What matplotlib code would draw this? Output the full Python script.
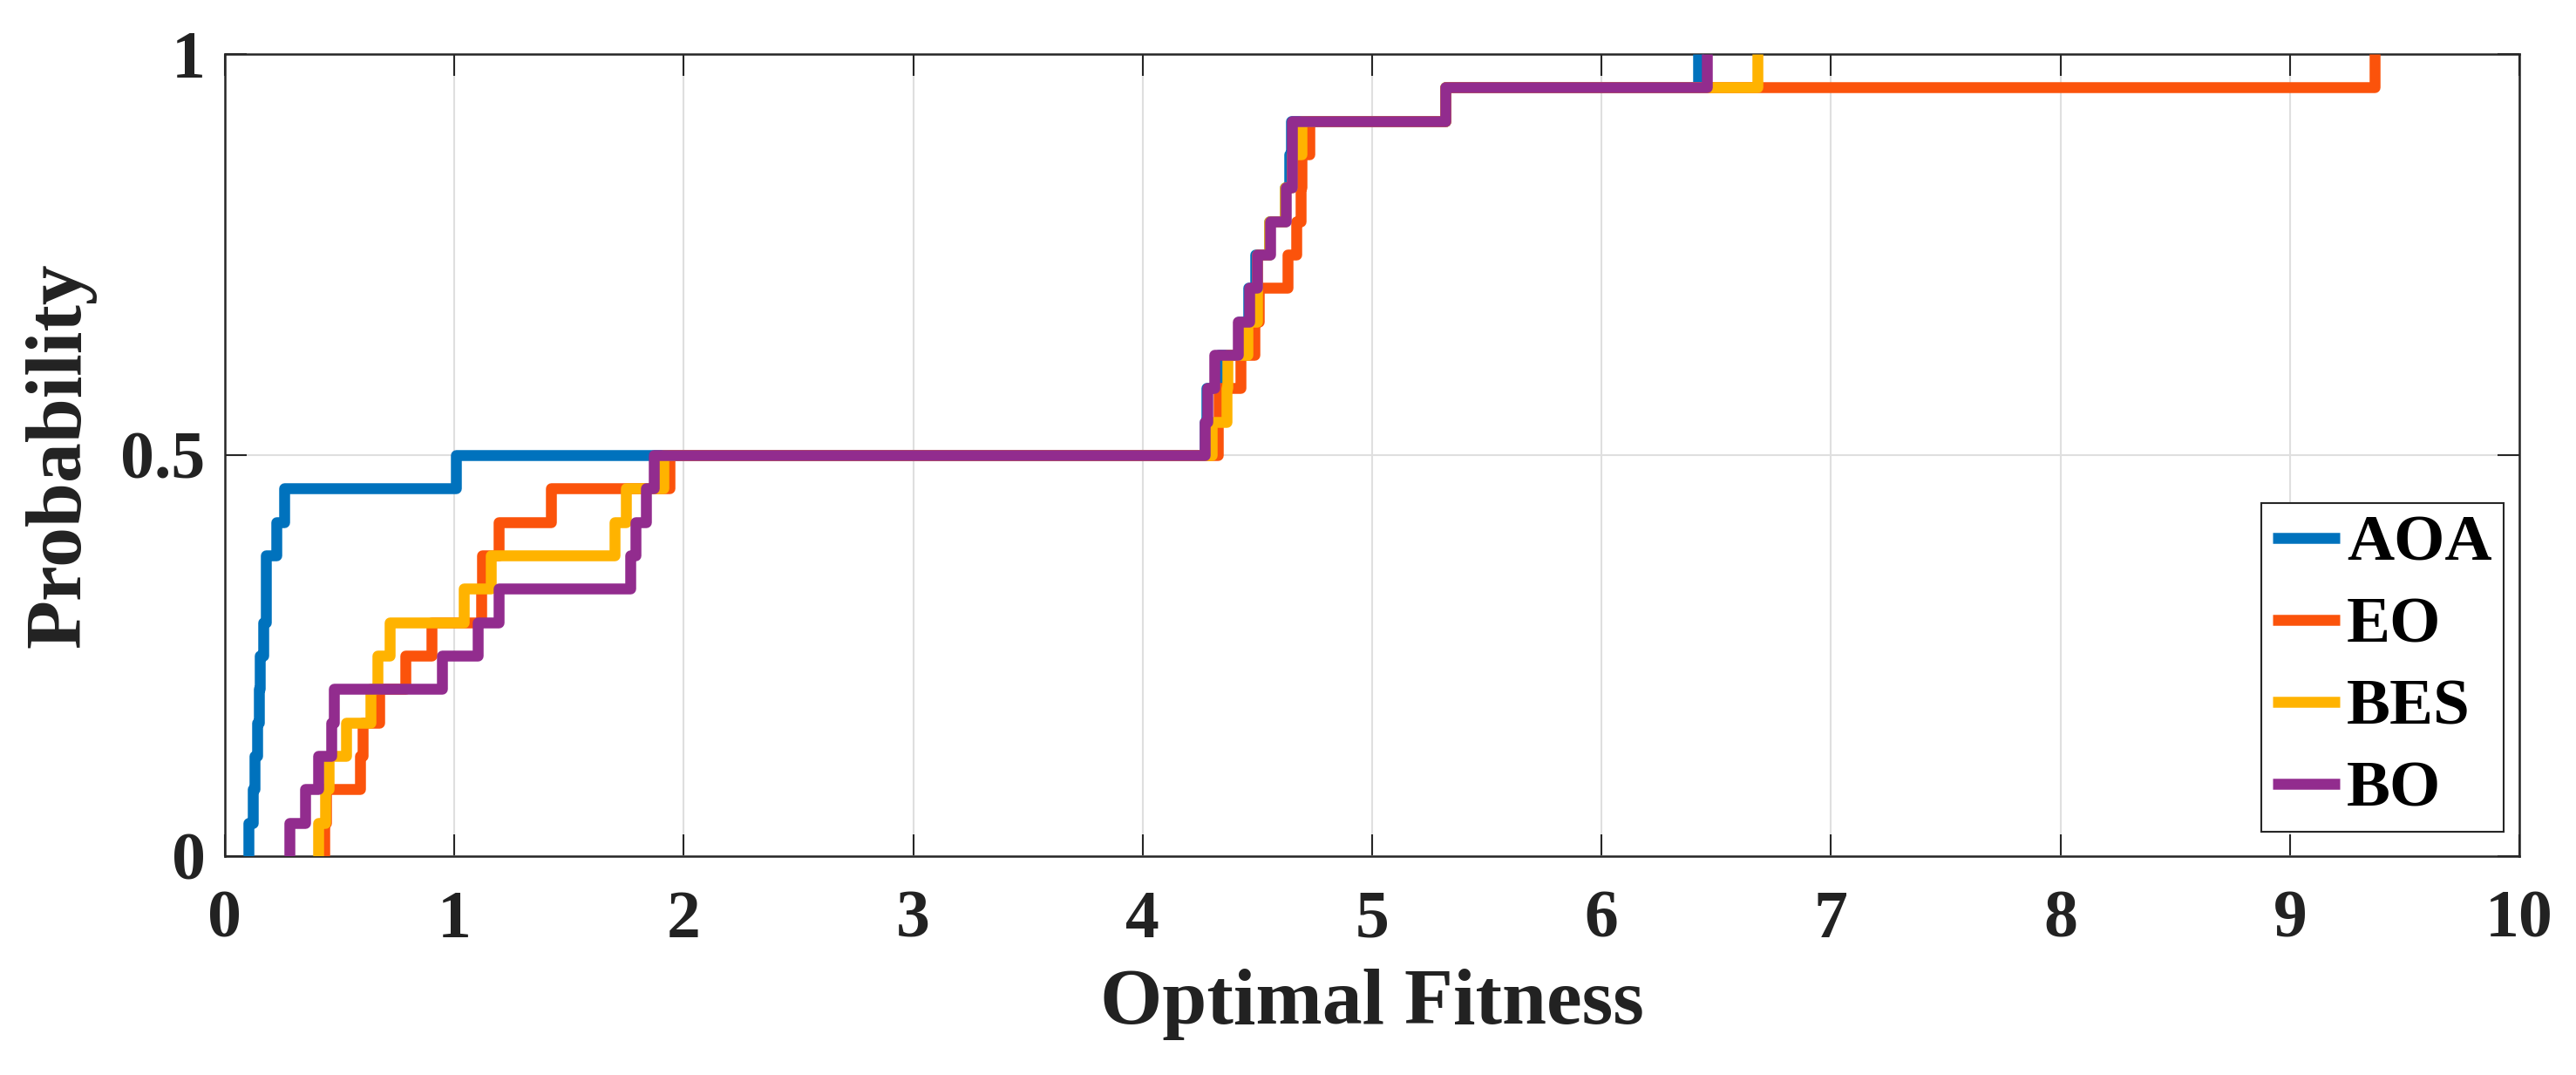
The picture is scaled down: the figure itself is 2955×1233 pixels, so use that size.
import numpy as np
import matplotlib.pyplot as plt

# values where each empirical CDF jumps by 1/24 (24 runs per algorithm)
aoa = [0.103, 0.122, 0.131, 0.141, 0.147, 0.153, 0.166, 0.179, 0.179, 0.223, 0.258, 1.007,
       4.27, 4.28, 4.33, 4.42, 4.46, 4.49, 4.55, 4.62, 4.64, 4.645, 5.32, 6.42]
eo = [0.432, 0.44, 0.590, 0.600, 0.6725, 0.786, 0.900, 1.118, 1.122, 1.192, 1.420, 1.937,
      4.328, 4.333, 4.428, 4.488, 4.506, 4.63, 4.668, 4.687, 4.693, 4.725, 5.32, 9.37]
bes = [0.4065, 0.438, 0.451, 0.527, 0.6345, 0.666, 0.720, 1.040, 1.160, 1.700, 1.747, 1.910,
       4.301, 4.364, 4.37, 4.457, 4.497, 4.50, 4.55, 4.62, 4.65, 4.693, 5.32, 6.68]
bo = [0.280, 0.350, 0.4065, 0.4635, 0.476, 0.945, 1.103, 1.192, 1.768, 1.788, 1.835, 1.869,
      4.269, 4.282, 4.314, 4.415, 4.465, 4.497, 4.554, 4.624, 4.649, 4.649, 5.32, 6.46]

names = ["AOA", "EO", "BES", "BO"]
series = [aoa, eo, bes, bo]
colors = ["#0072BD", "#FB530B", "#FFB300", "#922C8E"]

plt.rcParams['font.family'] = ['Liberation Serif', 'DejaVu Serif']
plt.rcParams['font.weight'] = 'bold'

fig = plt.figure(figsize=(29.55, 12.33), dpi=100)
ax = fig.add_axes([0.0873, 0.2036, 0.8907, 0.7462])

for name, vals, c in zip(names, series, colors):
    v = np.sort(np.array(vals))
    n = len(v)
    xs = np.concatenate([[v[0]], v])
    ys = np.arange(0, n + 1) / n
    ax.step(xs, ys, where='post', color=c, lw=9, label=name,
            solid_joinstyle='round', solid_capstyle='butt', zorder=3)

ax.set_xlim(0, 10)
ax.set_ylim(0, 1)
ax.set_xticks(range(0, 11))
ax.set_yticks([0, 0.5, 1])
ax.set_yticklabels(['0', '0.5', '1'])
ax.grid(True, color='#DFDFDF', lw=1.5, zorder=0)
ax.set_axisbelow(True)

for s in ax.spines.values():
    s.set_color('#262626')
    s.set_linewidth(1.8)
ax.tick_params(direction='in', length=18, width=1.5, top=True, right=True,
               labelsize=56, colors='#262626', pad=28)
ax.tick_params(axis='y', pad=16)
for lab in ax.get_xticklabels() + ax.get_yticklabels():
    lab.set_fontweight('bold')
    lab.set_color('#222222')

ax.set_xlabel("Optimal Fitness", fontsize=66, fontweight='bold', color='#222222')
ax.set_ylabel("Probability", fontsize=66, fontweight='bold', color='#222222')
ax.xaxis.set_label_coords(0.5, -0.14)
ax.yaxis.set_label_coords(-0.056, 0.5)

leg = ax.legend(loc='lower right', bbox_to_anchor=(0.9932, 0.03), borderaxespad=0,
                fontsize=54, handlelength=1.02, handletextpad=0.11, labelspacing=0.34,
                borderpad=0.18, fancybox=False, framealpha=1, edgecolor='#262626')
leg.get_frame().set_linewidth(1.5)
for t in leg.get_texts():
    t.set_fontweight('bold')
for h in leg.get_lines():
    h.set_linewidth(9)

fig.savefig("out.png", dpi=100, facecolor='white')
